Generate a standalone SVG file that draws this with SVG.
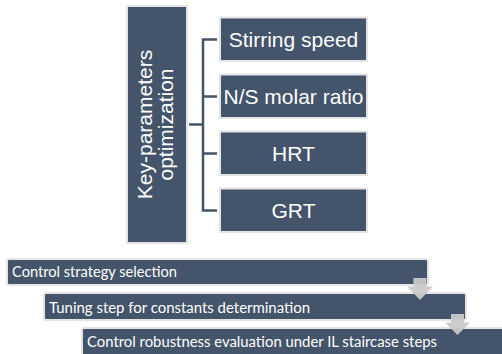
<svg xmlns="http://www.w3.org/2000/svg" width="502" height="354" viewBox="0 0 502 354">
  <style>
    .box { fill: #44546A; stroke: #E4E4E4; stroke-width: 2; }
    .lbl { font-family: "Liberation Sans", Arial, sans-serif; font-size: 21px; fill: #FFFFFF; }
    .step { font-family: Lato, "Liberation Sans", sans-serif; font-size: 15.5px; fill: #FFFFFF; }
    .link { fill: none; stroke: #44546A; stroke-width: 2.5; }
    .arrow { fill: #C9C9C9; opacity: 0.95; }
  </style>
  <rect width="502" height="354" fill="#FFFFFF"/>

  <!-- bracket connectors -->
  <g id="connectors">
    <path class="link" d="M189,124.5 H203 M217,39.5 H203 V210.5 H217 M203,96.5 H217 M203,153.5 H217"/>
  </g>

  <!-- main parameter block -->
  <g id="key-parameters">
    <rect class="box" x="127" y="6" width="60" height="237"/>
    <text class="lbl" transform="translate(152,124.5) rotate(-90)" text-anchor="middle">Key-parameters</text>
    <text class="lbl" transform="translate(173,124.5) rotate(-90)" text-anchor="middle">optimization</text>
  </g>

  <g id="stirring-speed">
    <rect class="box" x="220" y="17.5" width="147" height="43.5"/>
    <text class="lbl" x="293.5" y="47" text-anchor="middle">Stirring speed</text>
  </g>
  <g id="ns-molar-ratio">
    <rect class="box" x="220" y="74.5" width="147" height="43.5"/>
    <text class="lbl" x="293.5" y="104" text-anchor="middle">N/S molar ratio</text>
  </g>
  <g id="hrt">
    <rect class="box" x="220" y="131.5" width="147" height="43.5"/>
    <text class="lbl" x="293.5" y="161" text-anchor="middle">HRT</text>
  </g>
  <g id="grt">
    <rect class="box" x="220" y="188.5" width="147" height="43.5"/>
    <text class="lbl" x="293.5" y="218" text-anchor="middle">GRT</text>
  </g>

  <!-- staircase process -->
  <g id="control-strategy">
    <rect class="box" x="7" y="259" width="421" height="26" rx="2"/>
    <text class="step" x="12" y="277" textLength="165" lengthAdjust="spacingAndGlyphs">Control strategy selection</text>
  </g>
  <g id="tuning-step">
    <rect class="box" x="44" y="293" width="422" height="27" rx="2"/>
    <text class="step" x="49" y="313" textLength="261" lengthAdjust="spacingAndGlyphs">Tuning step for constants determination</text>
  </g>
  <g id="robustness">
    <rect class="box" x="82" y="328" width="430" height="40" rx="2"/>
    <text class="step" x="87" y="346.5" textLength="350" lengthAdjust="spacingAndGlyphs">Control robustness evaluation under IL staircase steps</text>
  </g>

  <g id="step-arrows">
    <path class="arrow" d="M413.5,278 H426.5 V286.5 H433 L420,300 L407,286.5 H413.5 Z"/>
    <path class="arrow" d="M451,314 H464 V322.5 H470 L457.5,335 L445,322.5 H451 Z"/>
  </g>
</svg>
